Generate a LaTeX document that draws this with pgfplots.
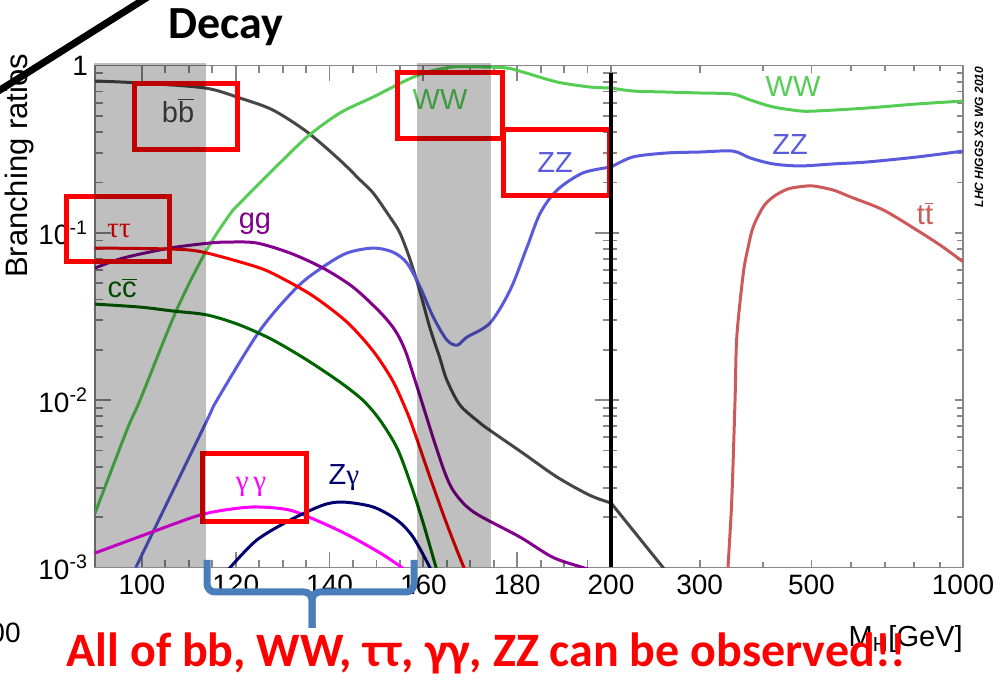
\documentclass[border=0pt]{standalone}
\usepackage{fontspec}
\setmainfont{Liberation Sans}
\newfontfamily\calibri{Carlito}
\newfontfamily\greekfont{Liberation Serif}
\usepackage{pgfplots}
\pgfplotsset{compat=1.18}

\definecolor{bbcol}{RGB}{70,70,70}
\definecolor{wwcol}{RGB}{85,205,85}
\definecolor{zzcol}{RGB}{90,90,220}
\definecolor{ggcol}{RGB}{130,0,140}
\definecolor{tautaucol}{RGB}{250,0,0}
\definecolor{cccol}{RGB}{0,100,0}
\definecolor{gamgamcol}{RGB}{255,0,255}
\definecolor{zgamcol}{RGB}{0,0,110}
\definecolor{ttcol}{RGB}{205,90,90}
\definecolor{framecol}{RGB}{135,135,135}
\definecolor{bracecol}{RGB}{74,126,187}

\newcommand{\obar}[1]{\ensuremath{\overline{\mbox{#1}}}}
\newcommand{\lbl}{\fontsize{14.5}{17}\selectfont}
\tikzset{brcurve/.style={line width=1.5pt, smooth, tension=0.5}}

\begin{document}
\begin{tikzpicture}
\useasboundingbox (0,0) rectangle (500pt,344pt);

% ---------- light Higgs: 90 -- 200 GeV, linear mass axis ----------
\begin{axis}[at={(47.5pt,60.25pt)}, anchor=south west,
  scale only axis, width=258pt, height=251pt,
  ymode=log, ymin=1e-3, ymax=1,
  ytick={0.001,0.01,0.1,1},
  minor ytick={0.002,0.003,0.004,0.005,0.006,0.007,0.008,0.009,
               0.02,0.03,0.04,0.05,0.06,0.07,0.08,0.09,
               0.2,0.3,0.4,0.5,0.6,0.7,0.8,0.9},
  yticklabels={10\textsuperscript{-3},10\textsuperscript{-2},10\textsuperscript{-1},1},
  xmin=90, xmax=200,
  xtick={100,120,140,160,180,200}, xticklabels={100,120,140,160,180,200},
  minor x tick num=3,
  axis line style={framecol, line width=0.9pt},
  tick style={framecol, line width=0.9pt},
  tick align=inside,
  major tick length=8pt, minor tick length=4pt,
  tick label style={font=\fontsize{14}{16}\selectfont, text=black}]
% b bbar
\addplot[brcurve, color=bbcol, mark=none] coordinates {
 (90,0.808) (99.6,0.786) (113.4,0.734) (120.9,0.639) (127.9,0.542) (135.2,0.401)
 (142.2,0.272) (146.5,0.207) (149.3,0.173) (152.9,0.124) (155.0,0.0998) (157.2,0.0688)
 (159.3,0.0443) (161.4,0.0270) (163.5,0.0179) (165.0,0.0132) (167.8,0.00935)
 (172.1,0.0073) (174.2,0.0066) (181.2,0.00483) (188.5,0.00347) (195.5,0.0027) (200,0.00243)};
% WW
\addplot[brcurve, color=wwcol, mark=none] coordinates {
 (90,0.00211) (96.8,0.00663) (99.6,0.01) (107.4,0.0346) (113.8,0.0789) (118.8,0.1296)
 (120.9,0.1507) (127.9,0.2373) (135.2,0.3738) (142.2,0.520) (149.3,0.648) (156.5,0.819)
 (160.8,0.914) (166.3,0.98) (172.1,0.98) (177.8,0.966) (181.2,0.914) (188.5,0.797)
 (195.5,0.744) (200,0.734)};
% ZZ
\addplot[brcurve, color=zzcol, mark=none] coordinates {
 (97,0.0008) (98.7,0.001) (113.6,0.0073) (116.0,0.01) (125.2,0.0262) (133.1,0.0474)
 (138.6,0.0625) (143.7,0.0757) (149.3,0.0811) (153.5,0.0767) (156.5,0.066)
 (159.3,0.0474) (162.1,0.0314) (165.0,0.0229) (167.2,0.0213) (169.3,0.0238)
 (174.2,0.0289) (178.5,0.0455) (182.1,0.0822) (184.9,0.131) (188.5,0.180)
 (194.0,0.228) (200,0.247)};
% gg
\addplot[brcurve, color=ggcol, mark=none] coordinates {
 (90,0.0616) (96.0,0.0707) (106.0,0.0811) (114.5,0.0869) (118.8,0.0881) (124.5,0.0869)
 (131.6,0.0757) (138.6,0.0616) (145.0,0.0474) (150.75,0.0336) (153.95,0.0262)
 (156.1,0.0199) (158.2,0.0132) (160.35,0.00849) (162.5,0.00546) (164.6,0.00367)
 (166.3,0.0029) (168.9,0.00236) (172.1,0.00203) (180.6,0.00152) (187.6,0.00115)
 (194.0,0.001) (196.6,0.00095)};
% tau tau
\addplot[brcurve, color=tautaucol, mark=none] coordinates {
 (90,0.0811) (106.0,0.080) (113.0,0.0767) (124.5,0.0625) (129.4,0.0544) (136.5,0.0419)
 (143.7,0.0293) (149.3,0.01965) (153.5,0.0130) (156.5,0.00849) (157.8,0.00681)
 (161.4,0.00347) (164.2,0.00209) (166.3,0.00146) (168.45,0.00103) (169.5,0.00088)};
% c cbar
\addplot[brcurve, color=cccol, mark=none] coordinates {
 (90,0.0375) (99.6,0.036) (106.6,0.0341) (113.9,0.0323) (120.9,0.0281) (127.9,0.0229)
 (135.2,0.01737) (142.2,0.01283) (147.1,0.010) (150.75,0.0076) (154.4,0.00517)
 (157.15,0.00324) (159.9,0.00187) (162.7,0.001) (163.5,0.00084)};
% gamma gamma
\addplot[brcurve, color=gamgamcol, mark=none] coordinates {
 (90,0.00122) (103.2,0.00167) (112.4,0.00206) (118.8,0.00223) (124.5,0.0023)
 (131.6,0.0022) (138.6,0.00184) (144.4,0.00154) (150.8,0.00122) (155.4,0.001) (157,0.0009)};
% Z gamma
\addplot[brcurve, color=zgamcol, mark=none] coordinates {
 (117.5,0.0009) (118.8,0.001) (124.5,0.00146) (131.6,0.00192) (138.6,0.00236)
 (142.9,0.00246) (149.3,0.0023) (154.4,0.00192) (157.8,0.00152) (161.4,0.001) (162,0.0009)};
\end{axis}

% ---------- heavy Higgs: 200 -- 1000 GeV, logarithmic mass axis ----------
\begin{axis}[at={(305.5pt,60.25pt)}, anchor=south west,
  scale only axis, width=176pt, height=251pt,
  ymode=log, ymin=1e-3, ymax=1,
  ytick={0.001,0.01,0.1,1},
  minor ytick={0.002,0.003,0.004,0.005,0.006,0.007,0.008,0.009,
               0.02,0.03,0.04,0.05,0.06,0.07,0.08,0.09,
               0.2,0.3,0.4,0.5,0.6,0.7,0.8,0.9},
  yticklabels={},
  xmode=log, xmin=200, xmax=1000,
  xtick={300,500,1000}, xticklabels={300,500,1000},
  minor xtick={400,600,700,800,900},
  axis line style={framecol, line width=0.9pt},
  tick style={framecol, line width=0.9pt},
  tick align=inside,
  major tick length=4pt, minor tick length=3pt,
  tick label style={font=\fontsize{14}{16}\selectfont, text=black}]
\addplot[line width=1.5pt, color=bbcol, mark=none] coordinates {
 (200,0.00243) (253.7,0.001) (262,0.00085)};
\addplot[brcurve, color=wwcol, mark=none] coordinates {
 (200,0.734) (221,0.704) (258,0.694) (300,0.685) (349,0.675) (378,0.622) (420,0.565)
 (475,0.535) (513,0.535) (645,0.557) (811,0.589) (1000,0.613)};
\addplot[brcurve, color=zzcol, mark=none] coordinates {
 (200,0.247) (221,0.284) (258,0.300) (300,0.304) (349,0.308) (378,0.280) (420,0.258)
 (475,0.251) (552,0.258) (645,0.265) (811,0.284) (1000,0.308)};
\addplot[brcurve, color=ttcol, mark=none] coordinates {
 (340,0.0007) (341.5,0.001) (347.4,0.00253) (352.6,0.01) (355.5,0.0239) (366.2,0.0573)
 (374.6,0.0826) (383.3,0.1088) (401.3,0.1432) (420.2,0.1643) (446.9,0.182)
 (474.6,0.1886) (504.4,0.1905) (552.8,0.180) (596.6,0.1643) (694.7,0.1369)
 (809.3,0.1039) (900.4,0.0845) (1000,0.0672)};
\end{axis}

% ---------- labels and annotations (coordinates in 0.5pt units from the top left) ----------
\begin{scope}[x=0.5pt, y=-0.5pt, yshift=344pt]
  % curve labels
  \node[anchor=base, text=bbcol, font=\lbl, inner sep=0pt] at (178,123) {b\obar{b}};
  \node[anchor=base, text=tautaucol, font=\lbl\greekfont, inner sep=0pt] at (119,238) {ττ};
  \node[anchor=base, text=ggcol, font=\lbl, inner sep=0pt] at (255,229) {gg};
  \node[anchor=base, text=cccol, font=\lbl, inner sep=0pt] at (122,298) {c\obar{c}};
  \node[anchor=base, text=wwcol, font=\lbl, inner sep=0pt] at (440,110) {WW};
  \node[anchor=base, text=zzcol, font=\lbl, inner sep=0pt] at (555,173) {ZZ};
  \node[anchor=base, text=wwcol, font=\lbl, inner sep=0pt] at (793,97) {WW};
  \node[anchor=base, text=zzcol, font=\lbl, inner sep=0pt] at (790,155) {ZZ};
  \node[anchor=base, text=ttcol, font=\lbl, inner sep=0pt] at (925,225) {t\obar{t}};
  \node[anchor=base, text=gamgamcol, font=\lbl\greekfont, inner sep=0pt] at (251,491) {γ\,γ};
  \node[anchor=base, text=zgamcol, font=\lbl, inner sep=0pt] at (344,485) {Z{\greekfont γ}};

  % axis titles and credit
  \node[rotate=90, anchor=base, font=\fontsize{15.5}{18}\selectfont, inner sep=0pt] at (27,166) {Branching ratios};
  \node[anchor=base east, font=\fontsize{14.5}{17}\selectfont, inner sep=0pt] at (963,647) {M\textsubscript{H}[GeV]};
  \node[rotate=90, anchor=base, font=\fontsize{6}{7}\selectfont\bfseries\itshape, inner sep=0pt] at (983,137) {LHC HIGGS XS WG 2010};
  \node[anchor=base east, font=\fontsize{14}{16}\selectfont, inner sep=0pt] at (21,643) {100};

  % highlighted channels
  \draw[red, line width=2.5pt] (134,84) rectangle (237,150);
  \draw[red, line width=2.5pt] (66,197) rectangle (169,262);
  \draw[red, line width=2.5pt] (397.5,73) rectangle (502.5,139);
  \draw[red, line width=2.5pt] (503,130) rectangle (609,196);
  \draw[red, line width=2.5pt] (202,454) rectangle (306,522);

  % excluded mass windows
  \fill[black, opacity=0.25] (94,63) rectangle (205.7,567.5);
  \fill[black, opacity=0.25] (416.5,63) rectangle (490.7,567.5);

  % boundary between the two mass ranges
  \draw[black, line width=2pt] (611,73) -- (611,567.5);

  % brace under the 115--160 GeV window
  \draw[bracecol, line width=3.5pt, rounded corners=4pt] (207,560) -- (207,592) -- (312,592) -- (312,628);
  \draw[bracecol, line width=3.5pt, rounded corners=4pt] (414,560) -- (414,592) -- (312,592) -- (312,628);

  % slide decorations
  \draw[black, line width=3.5pt] (-10,96.3) -- (160,-10.7);
  \node[anchor=base, font=\calibri\bfseries\fontsize{23}{27}\selectfont, inner sep=0pt] at (226,39) {Decay};
  \node[anchor=base, text=red, font=\calibri\bfseries\fontsize{24}{29}\selectfont, inner sep=0pt] at (486.5,667)
    {All of bb, WW, ττ, γγ, ZZ can be observed!!};
\end{scope}
\end{tikzpicture}
\end{document}
